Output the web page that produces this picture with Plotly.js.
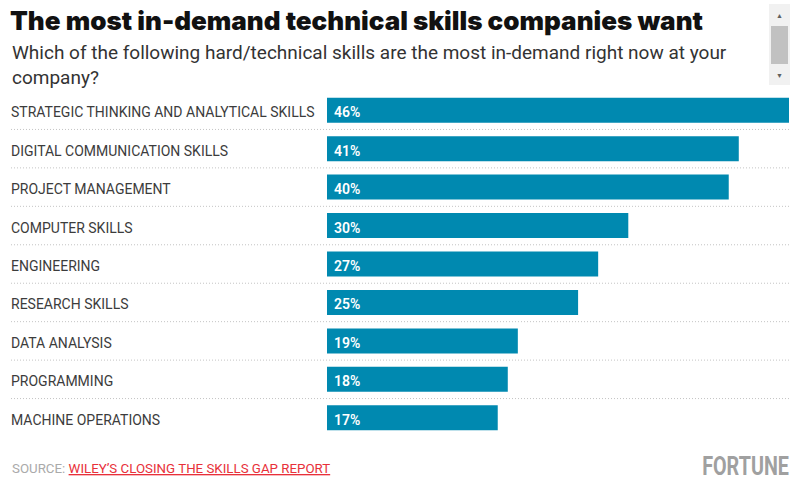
<!DOCTYPE html>
<html>
<head>
<meta charset="utf-8">
<script src="https://cdn.plot.ly/plotly-3.0.1.min.js"></script>
<style>html,body{margin:0;padding:0;background:#fff;}#chart{width:802px;height:487px;}</style>
</head>
<body>
<div id="chart"></div>
<script>
const categories = [
  "STRATEGIC THINKING AND ANALYTICAL SKILLS",
  "DIGITAL COMMUNICATION SKILLS",
  "PROJECT MANAGEMENT",
  "COMPUTER SKILLS",
  "ENGINEERING",
  "RESEARCH SKILLS",
  "DATA ANALYSIS",
  "PROGRAMMING",
  "MACHINE OPERATIONS"
];
const values = [46, 41, 40, 30, 27, 25, 19, 18, 17];
const valueLabels = values.map(v => v + "%");
const titleText = "The most in-demand technical skills companies want";
const subtitleText = "Which of the following hard/technical skills are the most in-demand right now at your<br>company?";
const sourceLabel = "SOURCE: ";
const sourceLink = "WILEY’S CLOSING THE SKILLS GAP REPORT";
const brand = "FORTUNE";

const W = 802, H = 487;
const M = {l: 327, r: 13, t: 91, b: 50};
const pw = W - M.l - M.r, ph = H - M.t - M.b;
const px2x = px => (px - M.l) / pw;
const py2y = py => (H - M.b - py) / ph;

const shapes = [];
for (let i = 0; i < categories.length - 1; i++) {
  shapes.push({type: 'line', xref: 'paper', yref: 'y', x0: px2x(11), x1: px2x(789),
    y0: i + 0.5, y1: i + 0.5, line: {color: '#c4c4c4', width: 1, dash: '1px,2px'}});
}
// scrollbar decoration
shapes.push({type: 'rect', xref: 'paper', yref: 'paper', x0: px2x(769), x1: px2x(790), y0: py2y(4), y1: py2y(85), fillcolor: '#f1f1f1', line: {width: 0}});
shapes.push({type: 'rect', xref: 'paper', yref: 'paper', x0: px2x(771), x1: px2x(788), y0: py2y(26), y1: py2y(64), fillcolor: '#c1c1c1', line: {width: 0}});

const annotations = categories.map((c, i) => ({
  text: c, xref: 'paper', yref: 'y', x: px2x(9), y: i, yshift: -2, xanchor: 'left', yanchor: 'middle',
  showarrow: false, font: {family: 'Roboto', size: 14, color: '#3c3c3c'}
}));
valueLabels.forEach((t, i) => annotations.push({
  text: t, xref: 'x', yref: 'y', x: 0, y: i, xshift: 5, yshift: -2, xanchor: 'left', yanchor: 'middle',
  showarrow: false, font: {family: 'Roboto', size: 14, color: '#ffffff', weight: 600}
}));
annotations.push({text: subtitleText, xref: 'paper', yref: 'paper', x: px2x(10), y: py2y(39), xanchor: 'left', yanchor: 'top', align: 'left',
  showarrow: false, font: {family: 'Roboto', size: 19, color: '#333333'}});
annotations.push({text: '<span style="color:#aaaaaa">' + sourceLabel + '</span><span style="color:#e8303a;text-decoration:underline">' + sourceLink + '</span>',
  xref: 'paper', yref: 'paper', x: px2x(10), y: py2y(468), xanchor: 'left', yanchor: 'middle',
  showarrow: false, font: {family: 'Roboto', size: 13.3, color: '#aaaaaa'}});
const brandIndex = annotations.length;
annotations.push({text: brand, xref: 'paper', yref: 'paper', x: px2x(791), y: py2y(467), xanchor: 'right', yanchor: 'middle',
  showarrow: false, font: {family: 'Roboto', size: 25, color: '#a0a0a0', weight: 700}});
annotations.push({text: '▲', xref: 'paper', yref: 'paper', x: px2x(779.5), y: py2y(15), xanchor: 'center', yanchor: 'middle', showarrow: false, font: {size: 7, color: '#606060'}});
annotations.push({text: '▼', xref: 'paper', yref: 'paper', x: px2x(779.5), y: py2y(75), xanchor: 'center', yanchor: 'middle', showarrow: false, font: {size: 7, color: '#606060'}});

const data = [{
  type: 'bar', orientation: 'h', y: categories, x: values,
  marker: {color: '#0089b0'}, hoverinfo: 'none'
}];

const layout = {
  width: W, height: H, margin: M, paper_bgcolor: '#fff', plot_bgcolor: '#fff',
  showlegend: false, bargap: 0.35,
  title: {text: titleText, xref: 'container', yref: 'container', x: 10/W, xanchor: 'left', y: 1 - 21/H, yanchor: 'middle',
    font: {family: 'Inter', size: 26, color: '#111111', weight: 900}},
  xaxis: {range: [0, 46], visible: false, fixedrange: true},
  yaxis: {type: 'category', autorange: 'reversed', showticklabels: false, showgrid: false, zeroline: false, showline: false, ticks: '', fixedrange: true},
  shapes: shapes, annotations: annotations
};
Plotly.newPlot('chart', data, layout, {displayModeBar: false, staticPlot: true}).then(gd => {
  // condense the brand wordmark horizontally (Fortune uses a condensed face)
  const ann = gd.querySelectorAll('.annotation')[brandIndex];
  if (ann) {
    const t = ann.querySelector('text');
    if (t) {
      t.style.transformBox = 'fill-box';
      t.style.transformOrigin = 'right center';
      t.style.transform = 'scaleX(0.79)';
    }
  }
});
</script>
</body>
</html>
